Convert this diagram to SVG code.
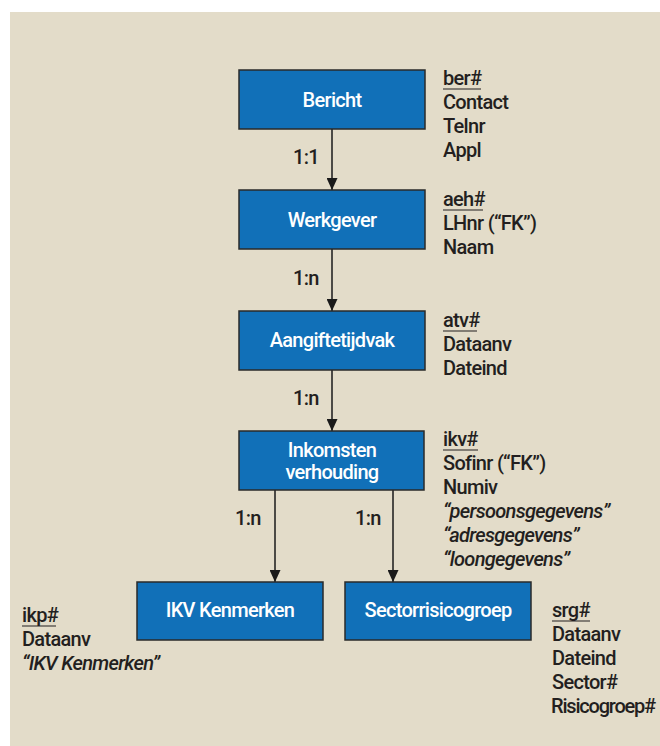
<svg xmlns="http://www.w3.org/2000/svg" width="660" height="746" viewBox="0 0 660 746">
<defs>
<marker id="ah" markerWidth="12" markerHeight="11" refX="12" refY="5.5" orient="auto" markerUnits="userSpaceOnUse">
<path d="M0,0 L12,5.5 L0,11 Z" fill="#1a1a1a"/>
</marker>
<style>
.box{fill:#1170b8;stroke:#2a2a2a;stroke-width:1.5}
.lbl{font-family:Roboto,"Liberation Sans",sans-serif;font-weight:500;font-size:20px;letter-spacing:-0.7px;fill:#ffffff;text-anchor:middle}
.att{font-family:Roboto,"Liberation Sans",sans-serif;font-weight:500;font-size:20px;letter-spacing:-0.7px;fill:#231f20}
.it{font-style:italic}
.tight{letter-spacing:-1.2px}
.card{font-family:Roboto,"Liberation Sans",sans-serif;font-weight:500;font-size:20px;letter-spacing:-0.7px;fill:#231f20}
.ul{stroke:#231f20;stroke-width:1.2}
.con{stroke:#1a1a1a;stroke-width:1.5;fill:none;marker-end:url(#ah)}
</style>
</defs>
<rect x="0" y="0" width="660" height="746" fill="#ffffff"/>
<rect x="10" y="12" width="650" height="734" fill="#e3dcc9"/>

<g id="connectors">
<line class="con" x1="332" y1="129" x2="332" y2="190"/>
<line class="con" x1="332" y1="249" x2="332" y2="311"/>
<line class="con" x1="332" y1="370" x2="332" y2="431"/>
<line class="con" x1="275" y1="490" x2="275" y2="582"/>
<line class="con" x1="393" y1="490" x2="393" y2="582"/>
<text class="card" x="293" y="164">1:1</text>
<text class="card" x="293" y="285">1:n</text>
<text class="card" x="293" y="405">1:n</text>
<text class="card" x="235" y="525">1:n</text>
<text class="card" x="355" y="525">1:n</text>
</g>

<g id="bericht">
<rect class="box" x="239" y="70" width="186" height="59"/>
<text class="lbl" x="332" y="107">Bericht</text>
<text class="att" x="443" y="85">ber#</text>
<line class="ul" x1="443" y1="89" x2="481" y2="89"/>
<text class="att" x="443" y="109">Contact</text>
<text class="att" x="443" y="133">Telnr</text>
<text class="att" x="443" y="157">Appl</text>
</g>

<g id="werkgever">
<rect class="box" x="239" y="190" width="186" height="59"/>
<text class="lbl" x="332" y="227">Werkgever</text>
<text class="att" x="443" y="206">aeh#</text>
<line class="ul" x1="443" y1="210" x2="483" y2="210"/>
<text class="att" x="443" y="230">LHnr (“FK”)</text>
<text class="att" x="443" y="254">Naam</text>
</g>

<g id="aangiftetijdvak">
<rect class="box" x="239" y="311" width="186" height="59"/>
<text class="lbl" x="332" y="347">Aangiftetijdvak</text>
<text class="att" x="443" y="327">atv#</text>
<line class="ul" x1="443" y1="331" x2="477" y2="331"/>
<text class="att" x="443" y="351">Dataanv</text>
<text class="att" x="443" y="375">Dateind</text>
</g>

<g id="inkomstenverhouding">
<rect class="box" x="239" y="431" width="185" height="59"/>
<text class="lbl" x="332" y="457">Inkomsten</text>
<text class="lbl" x="332" y="479">verhouding</text>
<text class="att" x="443" y="446">ikv#</text>
<line class="ul" x1="443" y1="450" x2="478" y2="450"/>
<text class="att" x="443" y="470">Sofinr (“FK”)</text>
<text class="att" x="443" y="494">Numiv</text>
<text class="att it" x="443" y="518">“persoonsgegevens”</text>
<text class="att it" x="443" y="542">“adresgegevens”</text>
<text class="att it" x="443" y="566">“loongegevens”</text>
</g>

<g id="ikvkenmerken">
<rect class="box" x="137" y="582" width="186" height="58"/>
<text class="lbl" x="230" y="617">IKV Kenmerken</text>
<text class="att" x="22" y="622">ikp#</text>
<line class="ul" x1="22" y1="626" x2="56" y2="626"/>
<text class="att" x="22" y="646">Dataanv</text>
<text class="att it" x="22" y="670">“IKV Kenmerken”</text>
</g>

<g id="sectorrisicogroep">
<rect class="box" x="345" y="582" width="186" height="58"/>
<text class="lbl" x="438" y="617">Sectorrisicogroep</text>
<text class="att" x="552" y="617">srg#</text>
<line class="ul" x1="552" y1="621" x2="590" y2="621"/>
<text class="att" x="552" y="641">Dataanv</text>
<text class="att" x="552" y="665">Dateind</text>
<text class="att" x="552" y="689">Sector#</text>
<text class="att tight" x="551" y="713">Risicogroep#</text>
</g>
</svg>
